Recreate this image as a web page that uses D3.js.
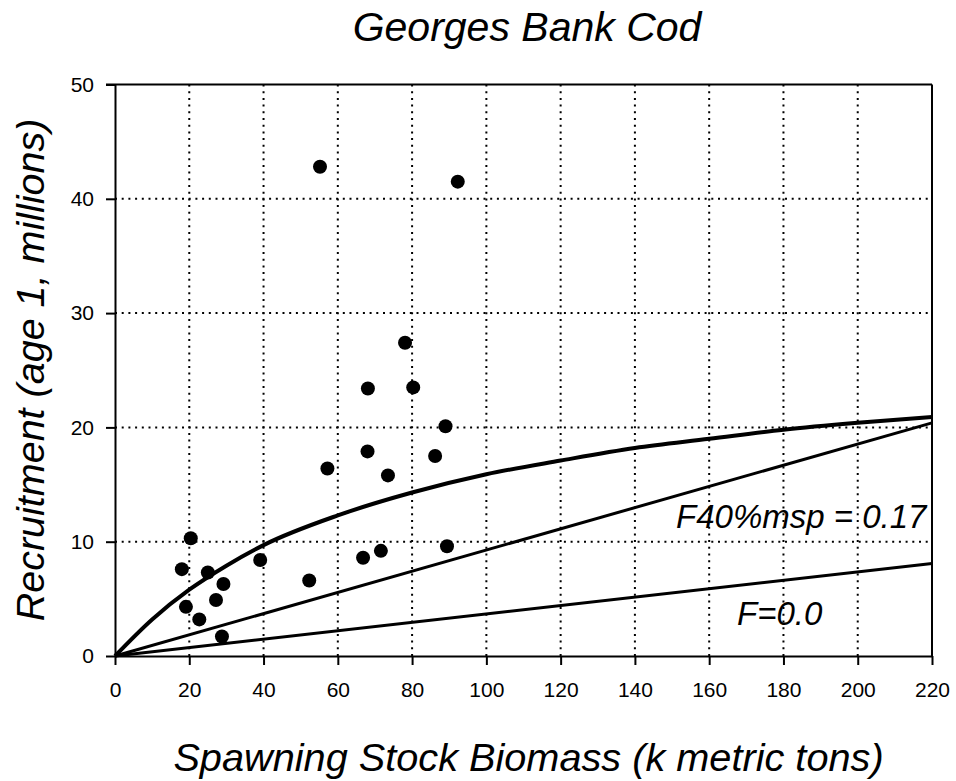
<!DOCTYPE html>
<html><head><meta charset="utf-8">
<script src="https://cdn.jsdelivr.net/npm/d3@7"></script>
<style>body{margin:0;background:#fff}svg{display:block}text{font-family:"Liberation Sans",Arial,sans-serif;fill:#000}</style>
</head><body>
<script>
// Observed stock-recruitment points: SSB (k t), recruits (millions)
const ssb = [55.2, 92.3, 78.1, 68.1, 80.3, 89.0, 68.0, 86.2, 57.2, 73.5,
             20.4, 18.0, 25.0, 39.1, 29.2, 19.1, 27.2, 22.7, 28.8, 52.3, 66.8, 71.6, 89.4];
const recruits = [42.8, 41.5, 27.4, 23.4, 23.5, 20.1, 17.9, 17.5, 16.4, 15.8,
             10.3, 7.6, 7.3, 8.4, 6.3, 4.3, 4.9, 3.2, 1.7, 6.6, 8.6, 9.2, 9.6];
// Stock-recruitment curve
const curveS = [0, 10, 20, 30, 40, 60, 80, 100, 120, 140, 160, 180, 200, 220];
const curveR = [0, 3.2, 5.8, 7.9, 9.7, 12.3, 14.3, 15.9, 17.1, 18.2, 19.0, 19.8, 20.4, 20.9];
// Replacement lines
const lineF40S = [0, 220];
const lineF40R = [0, 20.4];
const lineF0S = [0, 220];
const lineF0R = [0, 8.1];
const xTicks = [0, 20, 40, 60, 80, 100, 120, 140, 160, 180, 200, 220];
const yTicks = [0, 10, 20, 30, 40, 50];
const labels = [{t: "F40%msp = 0.17", x: 218.5, y: 11.2, anchor: "end"},
                {t: "F=0.0", x: 167.5, y: 2.7, anchor: "start"}];

const W = 956, H = 781;
const svg = d3.select("body").append("svg").attr("width", W).attr("height", H);
const x = d3.scaleLinear().domain([0, 220]).range([115, 932]);
const y = d3.scaleLinear().domain([0, 50]).range([656, 84.5]);

// grid
const g = svg.append("g");
g.selectAll("line.vg").data(xTicks.filter(d => d > 0 && d < 220)).join("line")
  .attr("x1", d => x(d)).attr("x2", d => x(d)).attr("y1", y(50)).attr("y2", y(0))
  .attr("stroke", "#000").attr("stroke-width", 2).attr("stroke-dasharray", "2 4.7");
g.selectAll("line.hg").data(yTicks.filter(d => d > 0 && d < 50)).join("line")
  .attr("x1", x(0)).attr("x2", x(220)).attr("y1", d => y(d)).attr("y2", d => y(d))
  .attr("stroke", "#000").attr("stroke-width", 2).attr("stroke-dasharray", "2 4.7");

// axes
const xAxis = svg.append("g").attr("transform", `translate(0,${y(0)})`)
  .call(d3.axisBottom(x).tickValues(xTicks).tickSize(9).tickPadding(17).tickSizeOuter(0));
const yAxis = svg.append("g").attr("transform", `translate(${x(0)},0)`)
  .call(d3.axisLeft(y).tickValues(yTicks).tickSize(9).tickPadding(12).tickSizeOuter(0));
[xAxis, yAxis].forEach(a => {
  a.selectAll("path,line").attr("stroke", "#000").attr("stroke-width", 2);
  a.selectAll("text").attr("font-size", 21).attr("font-family", '"Liberation Sans",Arial,sans-serif');
});
// top and right frame
svg.append("line").attr("x1", x(0) - 9).attr("x2", x(220)).attr("y1", y(50)).attr("y2", y(50)).attr("stroke", "#000").attr("stroke-width", 2);
svg.append("line").attr("x1", x(220)).attr("x2", x(220)).attr("y1", y(50)).attr("y2", y(0)).attr("stroke", "#000").attr("stroke-width", 2);

// lines
const lineGen = d3.line().x(d => x(d[0])).y(d => y(d[1]));
svg.append("path").datum(d3.zip(lineF0S, lineF0R)).attr("d", lineGen)
  .attr("fill", "none").attr("stroke", "#000").attr("stroke-width", 3);
svg.append("path").datum(d3.zip(lineF40S, lineF40R)).attr("d", lineGen)
  .attr("fill", "none").attr("stroke", "#000").attr("stroke-width", 3);
svg.append("path").datum(d3.zip(curveS, curveR)).attr("d", lineGen.curve(d3.curveMonotoneX))
  .attr("fill", "none").attr("stroke", "#000").attr("stroke-width", 4);

// points
svg.append("g").selectAll("circle").data(d3.zip(ssb, recruits)).join("circle")
  .attr("cx", d => x(d[0])).attr("cy", d => y(d[1])).attr("r", 7).attr("fill", "#000");

// annotations
svg.selectAll("text.ann").data(labels).join("text")
  .attr("x", d => x(d.x)).attr("y", d => y(d.y)).attr("text-anchor", d => d.anchor)
  .attr("font-size", 33).attr("font-style", "italic").text(d => d.t);

// titles
svg.append("text").attr("x", 527).attr("y", 41).attr("text-anchor", "middle")
  .attr("font-size", 41).attr("font-style", "italic").text("Georges Bank Cod");
svg.append("text").attr("x", 528.5).attr("y", 771).attr("text-anchor", "middle")
  .attr("font-size", 39.7).attr("font-style", "italic").text("Spawning Stock Biomass (k metric tons)");
svg.append("text").attr("transform", "translate(44,370) rotate(-90)").attr("text-anchor", "middle")
  .attr("font-size", 39.5).attr("font-style", "italic").text("Recruitment (age 1, millions)");
</script>
</body></html>
